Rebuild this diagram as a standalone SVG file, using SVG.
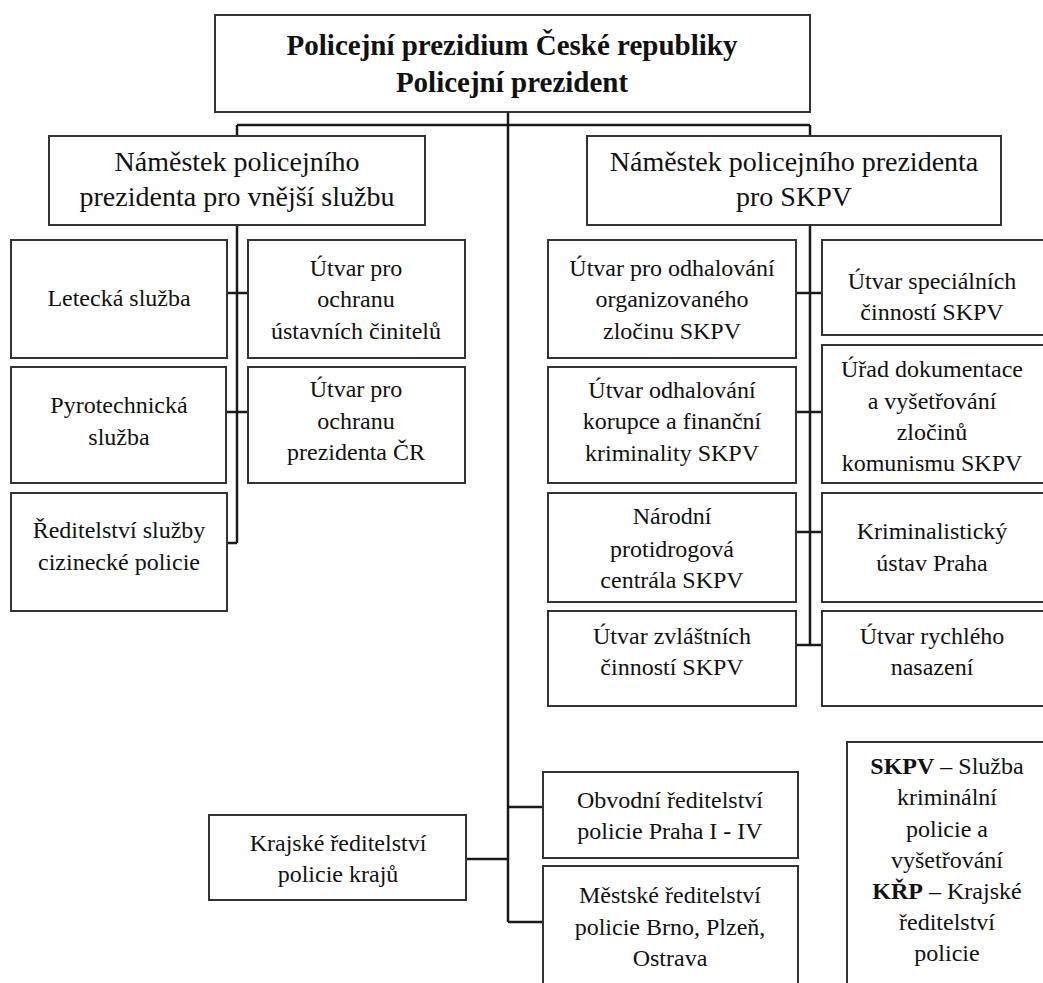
<svg xmlns="http://www.w3.org/2000/svg" width="1043" height="983" viewBox="0 0 1043 983" font-family="Liberation Serif, Times New Roman, serif">
<style>
.box{fill:#fff;stroke:#333;stroke-width:2}
.ln{fill:none;stroke:#1a1a1a;stroke-width:2.5}
.t{font-size:24px;fill:#111;text-anchor:middle}
.d{font-size:28px;fill:#111;text-anchor:middle}
.h{font-size:29px;font-weight:bold;fill:#111;text-anchor:middle}
.b{font-weight:bold}
</style>
<rect width="1043" height="983" fill="#fff"/>
<g id="connectors">
<path class="ln" d="M508 112V922M237 125H810M237 125V136M810 125V136"/>
<path class="ln" d="M237 225V543M227 293H248M226 412H248M227 543H237"/>
<path class="ln" d="M810 225V645M796 293H822M796 412H822M796 532H822M796 645H822"/>
<path class="ln" d="M466 859H508M508 807H543M508 922H543"/>
</g>
<g id="n-top" font-family="Liberation Serif, Times New Roman, serif">
<rect class="box" x="215" y="15" width="595" height="97"/>
<text class="h" x="512" y="55">Policejní prezidium České republiky</text>
<text class="h" x="512" y="92">Policejní prezident</text>
</g>
<g id="n-dep-left" font-family="Liberation Serif, Times New Roman, serif">
<rect class="box" x="49" y="136" width="376" height="89"/>
<text class="d" x="237" y="171">Náměstek policejního</text>
<text class="d" x="237" y="206">prezidenta pro vnější službu</text>
</g>
<g id="n-dep-right" font-family="Liberation Serif, Times New Roman, serif">
<rect class="box" x="587" y="136" width="414" height="89"/>
<text class="d" x="794" y="171">Náměstek policejního prezidenta</text>
<text class="d" x="794" y="206">pro SKPV</text>
</g>
<g id="n-letecka" font-family="Liberation Serif, Times New Roman, serif">
<rect class="box" x="11" y="240" width="216" height="118"/>
<text class="t" x="119" y="306">Letecká služba</text>
</g>
<g id="n-ochrana-cinitelu" font-family="Liberation Serif, Times New Roman, serif">
<rect class="box" x="248" y="240" width="217" height="118"/>
<text class="t" x="356" y="276">Útvar pro</text>
<text class="t" x="356" y="307">ochranu</text>
<text class="t" x="356" y="339">ústavních činitelů</text>
</g>
<g id="n-pyro" font-family="Liberation Serif, Times New Roman, serif">
<rect class="box" x="11" y="367" width="215" height="116"/>
<text class="t" x="119" y="413">Pyrotechnická</text>
<text class="t" x="119" y="445">služba</text>
</g>
<g id="n-ochrana-prezidenta" font-family="Liberation Serif, Times New Roman, serif">
<rect class="box" x="248" y="367" width="217" height="116"/>
<text class="t" x="356" y="397">Útvar pro</text>
<text class="t" x="356" y="429">ochranu</text>
<text class="t" x="356" y="460">prezidenta ČR</text>
</g>
<g id="n-cizinecka" font-family="Liberation Serif, Times New Roman, serif">
<rect class="box" x="11" y="493" width="216" height="118"/>
<text class="t" x="119" y="538">Ředitelství služby</text>
<text class="t" x="119" y="570">cizinecké policie</text>
</g>
<g id="n-organizovany" font-family="Liberation Serif, Times New Roman, serif">
<rect class="box" x="548" y="240" width="248" height="118"/>
<text class="t" x="672" y="276">Útvar pro odhalování</text>
<text class="t" x="672" y="307">organizovaného</text>
<text class="t" x="672" y="339">zločinu SKPV</text>
</g>
<g id="n-specialni" font-family="Liberation Serif, Times New Roman, serif">
<rect class="box" x="822" y="240" width="230" height="95"/>
<text class="t" x="932" y="289">Útvar speciálních</text>
<text class="t" x="932" y="320">činností SKPV</text>
</g>
<g id="n-korupce" font-family="Liberation Serif, Times New Roman, serif">
<rect class="box" x="548" y="367" width="248" height="116"/>
<text class="t" x="672" y="398">Útvar odhalování</text>
<text class="t" x="672" y="429">korupce a finanční</text>
<text class="t" x="672" y="461">kriminality SKPV</text>
</g>
<g id="n-komunismus" font-family="Liberation Serif, Times New Roman, serif">
<rect class="box" x="822" y="345" width="230" height="138"/>
<text class="t" x="932" y="377">Úřad dokumentace</text>
<text class="t" x="932" y="409">a vyšetřování</text>
<text class="t" x="932" y="440">zločinů</text>
<text class="t" x="932" y="471">komunismu SKPV</text>
</g>
<g id="n-protidrogova" font-family="Liberation Serif, Times New Roman, serif">
<rect class="box" x="548" y="493" width="248" height="109"/>
<text class="t" x="672" y="524">Národní</text>
<text class="t" x="672" y="557">protidrogová</text>
<text class="t" x="672" y="588">centrála SKPV</text>
</g>
<g id="n-kriminalisticky" font-family="Liberation Serif, Times New Roman, serif">
<rect class="box" x="822" y="493" width="230" height="109"/>
<text class="t" x="932" y="539">Kriminalistický</text>
<text class="t" x="932" y="571">ústav Praha</text>
</g>
<g id="n-zvlastni" font-family="Liberation Serif, Times New Roman, serif">
<rect class="box" x="548" y="611" width="248" height="95"/>
<text class="t" x="672" y="644">Útvar zvláštních</text>
<text class="t" x="672" y="675">činností SKPV</text>
</g>
<g id="n-rychle" font-family="Liberation Serif, Times New Roman, serif">
<rect class="box" x="822" y="611" width="230" height="95"/>
<text class="t" x="932" y="644">Útvar rychlého</text>
<text class="t" x="932" y="675">nasazení</text>
</g>
<g id="n-krajske" font-family="Liberation Serif, Times New Roman, serif">
<rect class="box" x="209" y="815" width="257" height="85"/>
<text class="t" x="338" y="851">Krajské ředitelství</text>
<text class="t" x="338" y="882">policie krajů</text>
</g>
<g id="n-obvodni" font-family="Liberation Serif, Times New Roman, serif">
<rect class="box" x="543" y="772" width="255" height="86"/>
<text class="t" x="670" y="808">Obvodní ředitelství</text>
<text class="t" x="670" y="839">policie Praha I - IV</text>
</g>
<g id="n-mestske" font-family="Liberation Serif, Times New Roman, serif">
<rect class="box" x="543" y="866" width="255" height="130"/>
<text class="t" x="670" y="903">Městské ředitelství</text>
<text class="t" x="670" y="935">policie Brno, Plzeň,</text>
<text class="t" x="670" y="966">Ostrava</text>
</g>
<g id="n-legend" font-family="Liberation Serif, Times New Roman, serif">
<rect class="box" x="847" y="742" width="210" height="260"/>
<text class="t" x="947" y="774"><tspan class="b">SKPV</tspan> – Služba</text>
<text class="t" x="947" y="805">kriminální</text>
<text class="t" x="947" y="837">policie a</text>
<text class="t" x="947" y="868">vyšetřování</text>
<text class="t" x="947" y="899"><tspan class="b">KŘP</tspan> – Krajské</text>
<text class="t" x="947" y="930">ředitelství</text>
<text class="t" x="947" y="961">policie</text>
</g>
</svg>
